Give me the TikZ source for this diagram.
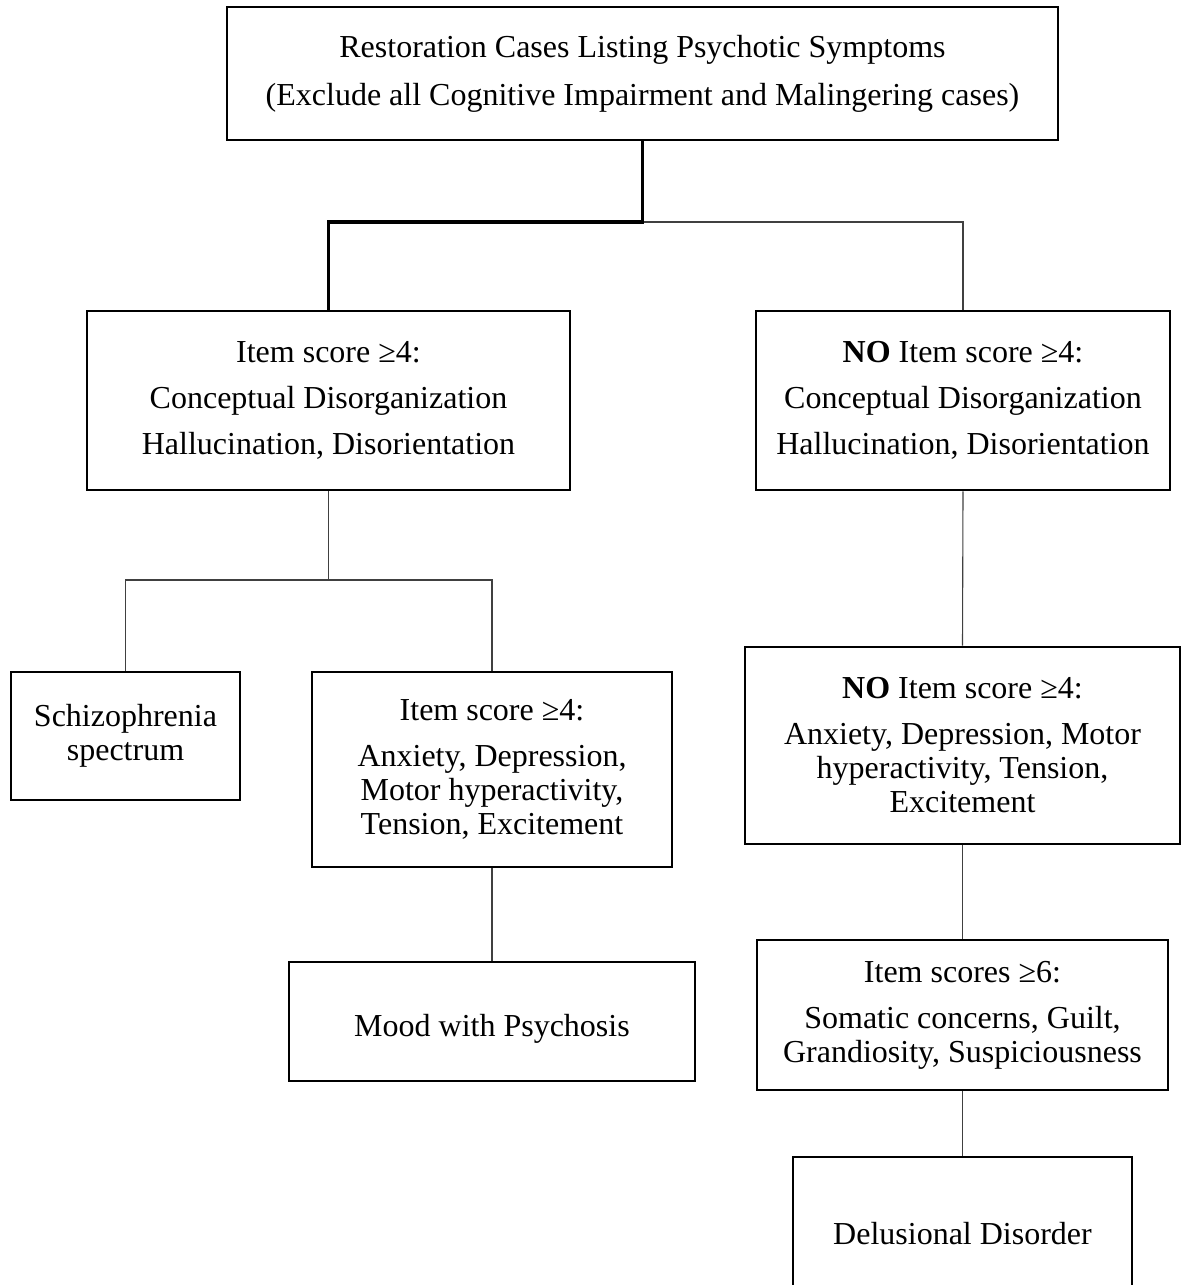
\documentclass[tikz,border=0pt]{standalone}
\usepackage{fontspec}
\setmainfont{Liberation Serif}
\begin{document}
\begin{tikzpicture}[x=1pt,y=-1pt,
  box/.style={draw=black,line width=2.6pt,inner sep=0pt,align=center,
    font=\fontsize{32}{34}\selectfont,
    execute at begin node={\rule{0pt}{36pt}}},
  thin/.style={draw=black!75,line width=1.1pt},
  thick/.style={draw=black,line width=3.6pt}]
\useasboundingbox (0,0) rectangle (1189,1285);
\fill[white] (0,0) rectangle (1189,1285);
% boxes
\node[box,minimum width=831pt,minimum height=133pt] (top) at (642.5,73.5)
  {Restoration Cases Listing Psychotic Symptoms\\[14pt]
   (Exclude all Cognitive Impairment and Malingering cases)};
\node[box,minimum width=483pt,minimum height=179pt] (A) at (328.5,400.5)
  {Item score ≥4:\\[12pt] Conceptual Disorganization\\[12pt] Hallucination, Disorientation};
\node[box,minimum width=414pt,minimum height=179pt] (B) at (963,400.5)
  {\textbf{NO} Item score ≥4:\\[12pt] Conceptual Disorganization\\[12pt] Hallucination, Disorientation};
\node[box,minimum width=229pt,minimum height=128pt] (S) at (125.5,736)
  {Schizophrenia\\ spectrum};
\node[box,minimum width=360pt,minimum height=195pt] (C) at (492,769.5)
  {Item score ≥4:\\[12pt] Anxiety, Depression,\\ Motor hyperactivity,\\ Tension, Excitement};
\node[box,minimum width=406pt,minimum height=119pt] (D) at (492,1021.5)
  {Mood with Psychosis};
\node[box,minimum width=435pt,minimum height=197pt] (E) at (962.5,745.5)
  {\textbf{NO} Item score ≥4:\\[12pt] Anxiety, Depression, Motor\\ hyperactivity, Tension,\\ Excitement};
\node[box,minimum width=411pt,minimum height=150pt] (F) at (962.5,1015)
  {Item scores ≥6:\\[12pt] Somatic concerns, Guilt,\\ Grandiosity, Suspiciousness};
\begin{scope}
\clip (0,0) rectangle (1189,1285);
\node[box,minimum width=339pt,minimum height=140pt] (G) at (962.5,1227)
  {Delusional Disorder};
\end{scope}
% connectors
\coordinate (j1) at (642.5,222);
\coordinate (j2) at (328.5,580);
\draw[thin] (j1) -| (B.north);
\draw[thick,line join=miter] (top.south) -- (j1) -| (A.north);
\draw[thin] (A.south) -- (j2);
\draw[thin] (j2) -| (S.north);
\draw[thin] (j2) -| (C.north);
\draw[thin] (C.south) -- (D.north);
\draw[thin] (B.south) -- (E.north);
\draw[thin] (E.south) -- (F.north);
\draw[thin] (F.south) -- (G.north);
\end{tikzpicture}
\end{document}
